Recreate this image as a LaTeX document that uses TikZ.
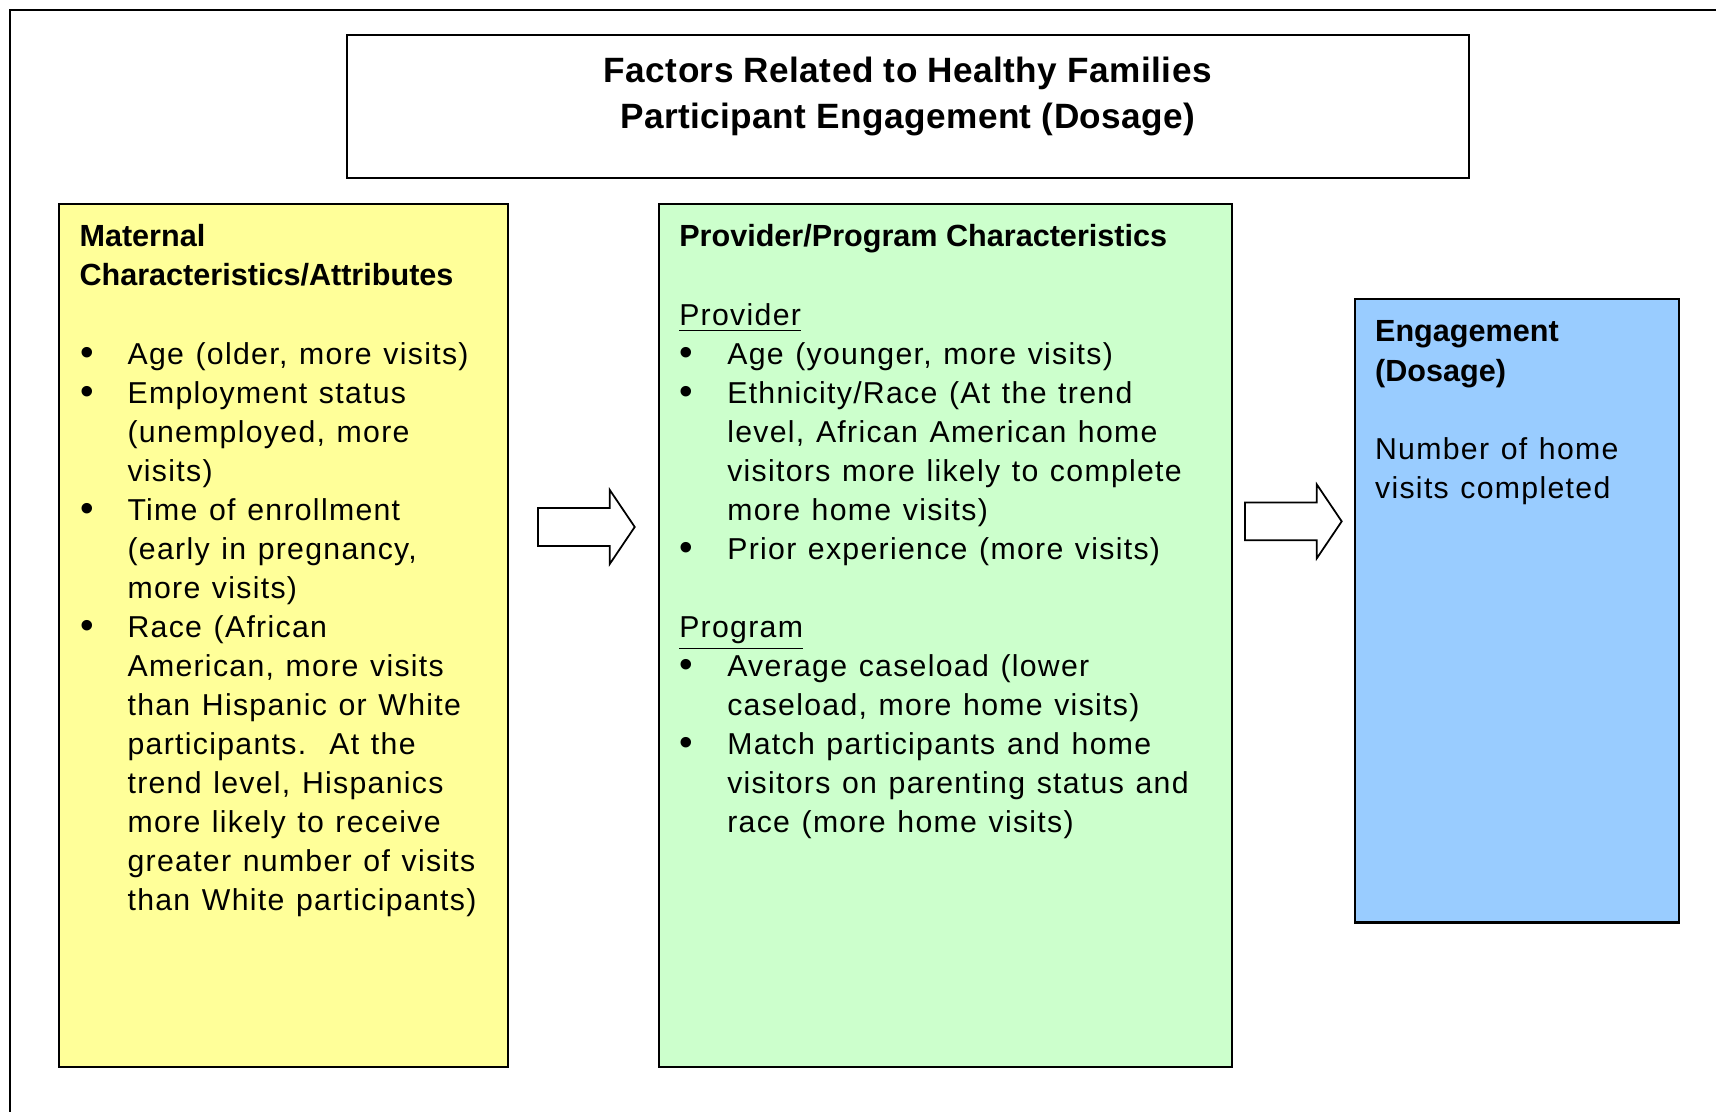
\documentclass[tikz,border=0pt]{standalone}
\usepackage{fontspec}
\usetikzlibrary{shapes.arrows,fit,positioning}
\setmainfont{Liberation Sans}
\newfontfamily\bodyfont{Liberation Sans}[LetterSpace=4.3,WordSpace=1.2]
\newfontfamily\headfont{Liberation Sans}
\newfontfamily\titlefont{Liberation Sans}[LetterSpace=1.3]
\definecolor{matyellow}{HTML}{FFFF99}
\definecolor{provgreen}{HTML}{CCFFCC}
\definecolor{engblue}{HTML}{99CCFF}
\newcommand{\boxhead}[1]{{\headfont\bfseries\fontsize{8.7}{11.1}\selectfont #1}}
\newcommand{\itm}{\makebox[0.48cm][l]{\hspace{0.2pt}\raisebox{-0.4pt}{\fontsize{11}{11}\selectfont\textbullet}}}
\newcommand{\itmcont}{\hspace*{0.48cm}}

\begin{document}
\begin{tikzpicture}[x=0.010944cm,y=-0.010944cm,
  panel/.style={draw,line width=0.6pt,inner sep=0pt},
  paneltext/.style={inner sep=0pt,align=left,anchor=north west,font=\bodyfont\fontsize{8.6}{11.1}\selectfont},
  flowarrow/.style={draw,line width=0.5pt,single arrow,inner sep=0pt,text height=0.1805cm,text depth=0.1805cm,minimum height=0.966cm,minimum width=0.722cm,single arrow head extend=0.18cm,single arrow tip angle=112}]
  \useasboundingbox (0,0) rectangle (1568,1016);
  \draw[line width=0.5pt] (9,1016) -- (9,9) -- (1568,9);

  \node[panel,fit={(317,32)(1342,163)}] (title) {};
  \node[inner sep=0pt,align=center,anchor=north,font=\titlefont\bfseries\fontsize{10}{13.1}\selectfont] (titletext) at (829.5,45)
    {\strut Factors Related to Healthy Families\\Participant Engagement (Dosage)};

  \node[panel,fill=matyellow,fit={(54,186)(464,975)}] (mat) {};
  \node[panel,fill=provgreen,fit={(602,186)(1126,975)}] (prov) {};
  \node[panel,fill=engblue,line width=0.7pt,fit={(1238,273)(1534,843)}] (eng) {};

  \node[paneltext] (mattext) at ([shift={(19,15)}]mat.north west) {\strut\boxhead{Maternal}\\
    \boxhead{Characteristics/Attributes}\\[11.1pt]
    \itm Age (older, more visits)\\
    \itm Employment status\\
    \itmcont(unemployed, more\\
    \itmcont visits)\\
    \itm Time of enrollment\\
    \itmcont(early in pregnancy,\\
    \itmcont more visits)\\
    \itm Race (African\\
    \itmcont American, more visits\\
    \itmcont than Hispanic or White\\
    \itmcont participants.\ \ At the\\
    \itmcont trend level, Hispanics\\
    \itmcont more likely to receive\\
    \itmcont greater number of visits\\
    \itmcont than White participants)};

  \node[paneltext] (provtext) at ([shift={(19,15)}]prov.north west) {\strut\boxhead{Provider/Program Characteristics}\\[11.1pt]
    \underline{Provider}\\
    \itm Age (younger, more visits)\\
    \itm Ethnicity/Race (At the trend\\
    \itmcont level, African American home\\
    \itmcont visitors more likely to complete\\
    \itmcont more home visits)\\
    \itm Prior experience (more visits)\\[11.1pt]
    \underline{Program}\\
    \itm Average caseload (lower\\
    \itmcont caseload, more home visits)\\
    \itm Match participants and home\\
    \itmcont visitors on parenting status and\\
    \itmcont race (more home visits)};

  \node[paneltext] (engtext) at ([shift={(19,15)}]eng.north west) {\strut\boxhead{Engagement}\\
    \boxhead{(Dosage)}\\[11.1pt]
    Number of home\\
    visits completed};

  \foreach \nm/\x/\y in {arrA/530/481.5,arrB/1176/476.4}
    \node[flowarrow] (\nm) at (\x,\y) {};
\end{tikzpicture}
\end{document}
